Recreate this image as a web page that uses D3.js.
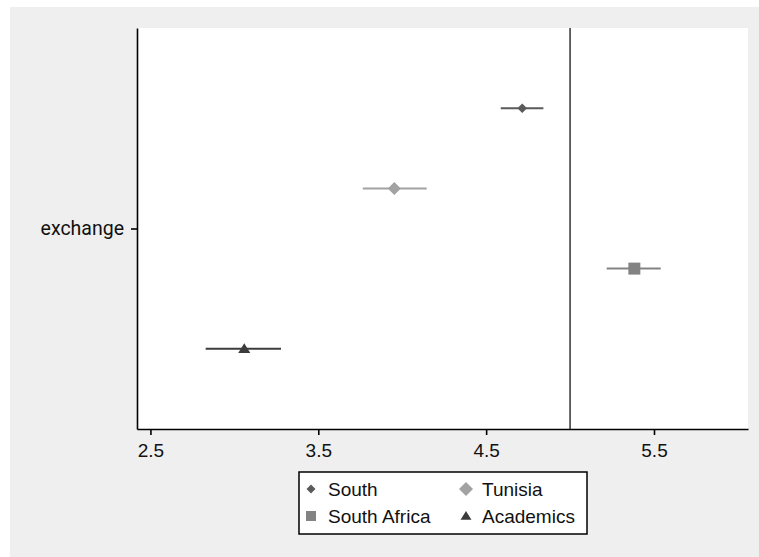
<!DOCTYPE html>
<html>
<head>
<meta charset="utf-8">
<script src="https://cdn.jsdelivr.net/npm/d3@7"></script>
<style>
  body { margin: 0; background: #fff; }
  svg { display: block; font-family: "Liberation Sans", Arial, sans-serif; }
</style>
</head>
<body>
<svg id="chart" width="759" height="557"></svg>
<script>
// data
const groups = ["South", "Tunisia", "South Africa", "Academics"];
const estimates = [4.715, 3.953, 5.383, 3.059];
const lower = [4.587, 3.765, 5.218, 2.829];
const upper = [4.841, 4.146, 5.540, 3.278];
const category = "exchange";
const xTicks = [2.5, 3.5, 4.5, 5.5];
const refLine = 5;

const colors = ["#5a5a5a", "#a2a2a2", "#838383", "#3c3c3c"];
const shapes = ["diamondSmall", "diamond", "square", "triangle"];

const svg = d3.select("#chart");

// outer graph region
svg.append("rect").attr("x", 10).attr("y", 7).attr("width", 749).attr("height", 550)
  .attr("fill", "#efefef");

const plot = { left: 137, right: 748, top: 28, bottom: 429 };

svg.append("rect")
  .attr("x", plot.left).attr("y", plot.top)
  .attr("width", plot.right - plot.left).attr("height", plot.bottom - plot.top)
  .attr("fill", "#fff");

const x = d3.scaleLinear().domain([2.42, 6.06]).range([plot.left, plot.right]);
// single category at 1, series spread around it
const y = d3.scaleLinear().domain([0.5, 1.5]).range([plot.bottom, plot.top]);
const offset = i => 1 + (1.5 - i) * 0.2;

/**
 * Build a marker path centered on 0,0.
 */
function markerPath(shape, s) {
  if (shape === "diamondSmall" || shape === "diamond") {
    return `M0,${-s}L${s},0L0,${s}L${-s},0Z`;
  }
  if (shape === "square") {
    return `M${-s},${-s}H${s}V${s}H${-s}Z`;
  }
  // triangle
  return `M0,${-s}L${s * 1.1},${s * 0.75}L${-s * 1.1},${s * 0.75}Z`;
}
const plotSize = { diamondSmall: 4.8, diamond: 6.5, square: 6, triangle: 5.5 };
const legendSize = { diamondSmall: 4.5, diamond: 7, square: 5, triangle: 5 };

// reference line
svg.append("line")
  .attr("x1", x(refLine)).attr("x2", x(refLine))
  .attr("y1", plot.top).attr("y2", plot.bottom)
  .attr("stroke", "#333").attr("stroke-width", 1.5);

// confidence intervals
svg.append("g").selectAll("line")
  .data(groups)
  .join("line")
  .attr("x1", (d, i) => x(lower[i]))
  .attr("x2", (d, i) => x(upper[i]))
  .attr("y1", (d, i) => y(offset(i)))
  .attr("y2", (d, i) => y(offset(i)))
  .attr("stroke", (d, i) => colors[i])
  .attr("stroke-width", 2);

// point estimates
svg.append("g").selectAll("path")
  .data(groups)
  .join("path")
  .attr("transform", (d, i) => `translate(${x(estimates[i])},${y(offset(i))})`)
  .attr("d", (d, i) => markerPath(shapes[i], plotSize[shapes[i]]))
  .attr("fill", (d, i) => colors[i]);

// x axis
const xAxis = svg.append("g")
  .attr("transform", `translate(0,${plot.bottom})`)
  .call(d3.axisBottom(x).tickValues(xTicks).tickFormat(d3.format(".1f")).tickSize(6).tickPadding(9).tickSizeOuter(0));
xAxis.select(".domain").attr("stroke", "#000").attr("stroke-width", 1.6);
xAxis.selectAll(".tick line").attr("stroke", "#000").attr("stroke-width", 1.6);
xAxis.selectAll(".tick text").attr("font-size", 19).attr("fill", "#111")
  .attr("font-family", "'Liberation Sans', Arial, sans-serif");

// y axis
const yAxis = svg.append("g")
  .attr("transform", `translate(${plot.left},0)`)
  .call(d3.axisLeft(y).tickValues([1]).tickFormat(() => category).tickSize(6).tickPadding(7).tickSizeOuter(0));
yAxis.select(".domain").attr("stroke", "#000").attr("stroke-width", 1.6);
yAxis.selectAll(".tick line").attr("stroke", "#000").attr("stroke-width", 1.6);
yAxis.selectAll(".tick text").attr("font-size", 19.5).attr("fill", "#111")
  .attr("font-family", "Roboto, 'Liberation Sans', Arial, sans-serif");

// legend
const legend = svg.append("g");
legend.append("rect")
  .attr("x", 299).attr("y", 472).attr("width", 288).attr("height", 62)
  .attr("fill", "#fff").attr("stroke", "#000").attr("stroke-width", 1.5);

const legendPos = [
  { sx: 311, tx: 328, cy: 489 },
  { sx: 466, tx: 482, cy: 489 },
  { sx: 311, tx: 328, cy: 516 },
  { sx: 466, tx: 482, cy: 516 }
];

const items = legend.selectAll("g.item")
  .data(groups)
  .join("g")
  .attr("class", "item");

items.append("path")
  .attr("transform", (d, i) => `translate(${legendPos[i].sx},${legendPos[i].cy})`)
  .attr("d", (d, i) => markerPath(shapes[i], legendSize[shapes[i]]))
  .attr("fill", (d, i) => colors[i]);

items.append("text")
  .attr("x", (d, i) => legendPos[i].tx)
  .attr("y", (d, i) => legendPos[i].cy)
  .attr("dy", "0.35em")
  .attr("font-size", 19)
  .attr("fill", "#111")
  .text(d => d);
</script>
</body>
</html>
